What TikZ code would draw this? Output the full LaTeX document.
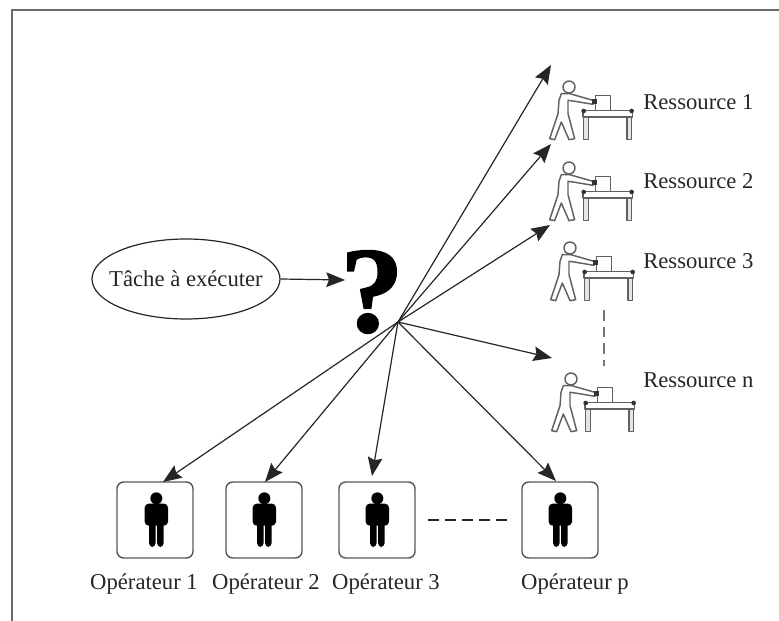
\documentclass[tikz,border=0pt]{standalone}
\usepackage{fontspec}
\setmainfont{Liberation Serif}
\newfontfamily\qfont[UprightFont=* Bold,FakeBold=1.2]{Liberation Serif}
\usetikzlibrary{arrows.meta,shapes.geometric}
\definecolor{ink}{gray}{0.15}
\tikzset{
  lbl/.style={font=\fontsize{17pt}{19pt}\selectfont,text=ink,inner sep=0pt},
  arr/.style={draw=ink,line width=0.9pt,-{Stealth[length=14pt,width=11pt,inset=2pt]}},
  opbox/.style={draw=black!65,line width=1.1pt,rounded corners=5pt,fill=white,minimum width=57pt,minimum height=57pt,inner sep=0pt},
  dashln/.style={draw=ink,line width=1pt,dash pattern=on 8.25pt off 4.5pt},
  vdash/.style={draw=black!55,line width=1.5pt,dash pattern=on 8pt off 4.5pt},
  pics/worker/.style={code={
    \begin{scope}[x=0.25pt,y=-0.25pt,draw=black!62,line width=1.1pt,line join=round]
      \draw (0,0) circle[radius=18];
      \draw[fill=white] (-23,20)--(2,20)--(72,40)--(72,52)--(12,42)--(-3,40)--(-3,80)--(17,155)--(0,158)--(-23,105)--(-43,158)--(-58,155)--(-33,80)--(-30,40)--cycle;
      \draw[fill=white,line width=0.9pt] (80,25) rectangle (124,70);
      \fill[black!80] (70,36) rectangle (84,52);
      \draw[fill=black!10] (44,90) rectangle (59,158);
      \draw[fill=black!10] (174,90) rectangle (187,158);
      \draw[fill=white,line width=1pt] (42,70) rectangle (190,90);
      \fill[black!80] (44,72) circle[radius=7] (188,72) circle[radius=7];
    \end{scope}}},
  pics/person/.style={code={
    \begin{scope}[x=0.25pt,y=-0.25pt]
      \fill[black] (1,-65) circle[radius=18];
      \fill[black,rounded corners=3pt] (-34,-49) rectangle (36,17);
      \fill[black,rounded corners=3pt] (-21,5) rectangle (-1,81);
      \fill[black,rounded corners=3pt] (3,5) rectangle (23,81);
    \end{scope}}}
}
\begin{document}
\begin{tikzpicture}[x=0.75pt,y=-0.75pt]
\useasboundingbox (0,0) rectangle (779,621);
\fill[white] (0,0) rectangle (779,621);
\coordinate (ftl) at (12,10);
\coordinate (ftr) at (779,10);
\coordinate (fbl) at (12,621);
\draw[black!58,line width=2pt] (ftr) -- (ftl) -- (fbl);

\node[draw=ink,line width=0.9pt,ellipse,minimum width=141pt,minimum height=60pt,inner sep=0pt] (task) at (186,279) {};
\node[lbl] (tasklbl) at (task.center) {Tâche à exécuter};
\node[font=\qfont\fontsize{92pt}{92pt}\selectfont,inner sep=0pt,xscale=1.04] (q) at (372,292) {?};
\coordinate (hub) at (398,322);
\coordinate (qin) at (345,280);
\draw[arr] (task.east) -- (qin);

\pic at (569,87) {worker};
\pic at (569,168) {worker};
\pic at (570,248) {worker};
\pic at (571,379) {worker};
\node[lbl,anchor=west] (ra) at (643,102) {Ressource 1};
\node[lbl,anchor=west] (rb) at (643,181) {Ressource 2};
\node[lbl,anchor=west] (rc) at (643,261) {Ressource 3};
\node[lbl,anchor=west] (rd) at (643,380) {Ressource n};
\coordinate (ta) at (551,65);
\coordinate (tb) at (551,144);
\coordinate (tc) at (550,225);
\coordinate (td) at (552,358);
\draw[arr] (hub) -- (ta);
\draw[arr] (hub) -- (tb);
\draw[arr] (hub) -- (tc);
\draw[arr] (hub) -- (td);
\coordinate (va) at (604,310);
\coordinate (vb) at (604,366);
\draw[vdash] (va) -- (vb);

\node[opbox] (o1) at (155,520) {};
\node[opbox] (o2) at (264,520) {};
\node[opbox] (o3) at (377,520) {};
\node[opbox] (o4) at (560,520) {};
\foreach \x in {156,264,377,560}{\pic at (\x,520) {person};}
\node[lbl] at (144,584) {Opérateur 1};
\node[lbl] at (266,584) {Opérateur 2};
\node[lbl] at (386,584) {Opérateur 3};
\node[lbl] at (575,584) {Opérateur p};
\coordinate (b1) at (163,482);
\coordinate (b2) at (265,482);
\coordinate (b3) at (372,476);
\coordinate (b4) at (556,481);
\draw[arr] (hub) -- (b1);
\draw[arr] (hub) -- (b2);
\draw[arr] (hub) -- (b3);
\draw[arr] (hub) -- (b4);
\coordinate (da) at (428,520);
\coordinate (db) at (508,520);
\draw[dashln] (da) -- (db);
\end{tikzpicture}
\end{document}
